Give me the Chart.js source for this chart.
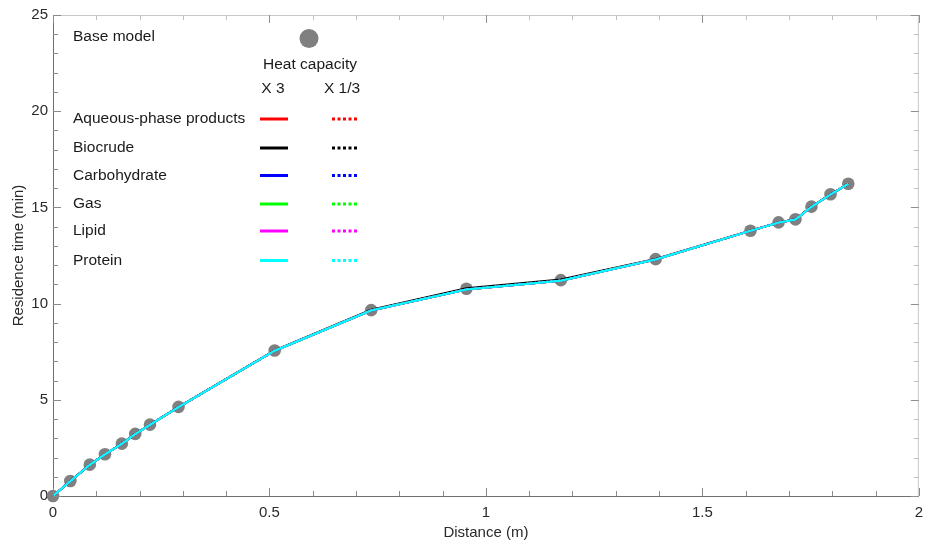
<!DOCTYPE html>
<html>
<head>
<meta charset="utf-8">
<script src="https://cdn.jsdelivr.net/npm/chart.js@4.4.3/dist/chart.umd.min.js"></script>
<style>
  html, body { margin: 0; padding: 0; background: #fff; }
  #wrap { width: 931px; height: 552px; position: relative; }
</style>
</head>
<body>
<div id="wrap"><canvas id="chart"></canvas></div>
<script>
// distance along reactor (m) and residence time (min)
const distance = [0, 0.040, 0.085, 0.120, 0.159, 0.190, 0.224, 0.290, 0.512, 0.735, 0.955, 1.173, 1.392, 1.611, 1.676, 1.715, 1.752, 1.796, 1.837];
const baseTime = [0, 0.78, 1.63, 2.17, 2.72, 3.23, 3.71, 4.63, 7.56, 9.66, 10.77, 11.22, 12.31, 13.79, 14.22, 14.38, 15.04, 15.68, 16.23];

// model curves, heat capacity x3 and x1/3 (all components nearly overlap)
const timeX3 = [0, 0.77, 1.62, 2.16, 2.71, 3.22, 3.70, 4.62, 7.55, 9.64, 10.73, 11.19, 12.29, 13.78, 14.21, 14.37, 15.03, 15.67, 16.22];
const timeThird = [0, 0.77, 1.62, 2.17, 2.72, 3.22, 3.71, 4.62, 7.55, 9.65, 10.74, 11.20, 12.30, 13.78, 14.21, 14.37, 15.03, 15.67, 16.22];
const biocrudeX3 = [0, 0.78, 1.63, 2.17, 2.72, 3.23, 3.71, 4.63, 7.57, 9.68, 10.80, 11.25, 12.32, 13.79, 14.22, 14.38, 15.04, 15.68, 16.23];

const components = ['Aqueous-phase products', 'Biocrude', 'Carbohydrate', 'Gas', 'Lipid', 'Protein'];
const componentColors = ['#ff0000', '#000000', '#0000ff', '#00ff00', '#ff00ff', '#00ffff'];
const curvesX3 = [timeX3, biocrudeX3, timeX3, timeX3, timeX3, timeX3];
const curvesThird = [timeThird, timeThird, timeThird, timeThird, timeThird, timeThird];

const xTickLabels = ['0', '0.5', '1', '1.5', '2'];
const yTickLabels = ['0', '5', '10', '15', '20', '25'];

const FONT = "'Liberation Sans', Arial, sans-serif";
const toPoints = (ys) => distance.map((d, i) => ({ x: d, y: ys[i] }));

const datasets = [];
components.forEach((name, i) => {
  datasets.push({
    label: name + ' X 1/3',
    data: toPoints(curvesThird[i]),
    showLine: true,
    borderColor: componentColors[i],
    borderWidth: 2,
    borderDash: [2, 2],
    pointRadius: 0,
    order: 40 - i * 2,
  });
  datasets.push({
    label: name + ' X 3',
    data: toPoints(curvesX3[i]),
    showLine: true,
    borderColor: componentColors[i],
    borderWidth: 2,
    pointRadius: 0,
    order: 39 - i * 2,
  });
});
datasets.push({
  label: 'Base model',
  data: toPoints(baseTime),
  showLine: false,
  clip: false,
  pointRadius: 6.3,
  pointBackgroundColor: '#808080',
  pointBorderWidth: 0,
  order: 100,
});

// inward ticks on all four sides, lighter top/right frame, and the in-plot legend
const framePlugin = {
  id: 'frame',
  afterDatasetsDraw(chart) {
    const { ctx, chartArea: a, scales: { x, y } } = chart;
    ctx.save();
    ctx.lineWidth = 1;
    ctx.strokeStyle = '#c8c8c8';
    ctx.beginPath();
    ctx.moveTo(a.left, a.top + 0.5); ctx.lineTo(a.right, a.top + 0.5);
    ctx.moveTo(a.right - 0.5, a.top); ctx.lineTo(a.right - 0.5, a.bottom);
    ctx.stroke();
    for (let v = 0; v <= 20; v++) {
      const px = Math.round(x.getPixelForValue(v / 10)) + 0.5;
      const len = v % 5 === 0 ? 8 : 5;
      ctx.strokeStyle = '#8a8a8a';
      ctx.beginPath(); ctx.moveTo(px, a.bottom); ctx.lineTo(px, a.bottom - len); ctx.stroke();
      ctx.strokeStyle = v % 5 === 0 ? '#909090' : '#c0c0c0';
      ctx.beginPath(); ctx.moveTo(px, a.top); ctx.lineTo(px, a.top + len); ctx.stroke();
    }
    for (let v = 0; v <= 25; v++) {
      const py = Math.round(y.getPixelForValue(v)) + 0.5;
      const len = v % 5 === 0 ? 8 : 5;
      ctx.strokeStyle = '#8a8a8a';
      ctx.beginPath(); ctx.moveTo(a.left, py); ctx.lineTo(a.left + len, py); ctx.stroke();
      ctx.strokeStyle = v % 5 === 0 ? '#909090' : '#c0c0c0';
      ctx.beginPath(); ctx.moveTo(a.right, py); ctx.lineTo(a.right - len, py); ctx.stroke();
    }

    // legend
    const lx = a.left + 20;
    ctx.fillStyle = '#1a1a1a';
    ctx.font = '15.5px ' + FONT;
    ctx.textBaseline = 'middle';
    ctx.textAlign = 'left';
    ctx.fillText('Base model', lx, 37);
    ctx.fillStyle = '#808080';
    ctx.beginPath(); ctx.arc(309, 38.5, 9.5, 0, Math.PI * 2); ctx.fill();
    ctx.fillStyle = '#1a1a1a';
    ctx.textAlign = 'center';
    ctx.fillText('Heat capacity', 310, 65);
    ctx.fillText('X 3', 273, 89);
    ctx.fillText('X 1/3', 342, 89);
    const rows = [119, 148, 175.5, 204, 231, 260.5];
    components.forEach((name, i) => {
      const ry = rows[i];
      ctx.fillStyle = '#1a1a1a';
      ctx.textAlign = 'left';
      ctx.fillText(name, lx, ry);
      ctx.strokeStyle = componentColors[i];
      ctx.lineWidth = 3;
      ctx.setLineDash([]);
      ctx.beginPath(); ctx.moveTo(260, ry); ctx.lineTo(288, ry); ctx.stroke();
      ctx.setLineDash([3, 2.5]);
      ctx.beginPath(); ctx.moveTo(332, ry); ctx.lineTo(358, ry); ctx.stroke();
    });
    ctx.restore();
  },
};

new Chart(document.getElementById('chart'), {
  type: 'scatter',
  data: { datasets },
  plugins: [framePlugin],
  options: {
    responsive: true,
    maintainAspectRatio: false,
    animation: false,
    layout: { padding: { top: 15, right: 12, left: 0, bottom: 0 } },
    plugins: { legend: { display: false }, tooltip: { enabled: false } },
    elements: { line: { tension: 0 } },
    scales: {
      x: {
        type: 'linear',
        min: 0,
        max: 2,
        grid: { display: false, drawTicks: false },
        border: { display: true, color: '#707070', width: 1 },
        ticks: {
          stepSize: 0.5,
          padding: 8,
          color: '#2a2a2a',
          font: { family: FONT, size: 15 },
          callback: (v, i) => xTickLabels[i],
        },
        title: {
          display: true,
          text: 'Distance (m)',
          color: '#2a2a2a',
          font: { family: FONT, size: 15 },
          padding: { top: 0, bottom: 10 },
        },
        afterFit: (s) => { s.height = 56; },
      },
      y: {
        type: 'linear',
        min: 0,
        max: 25,
        grid: { display: false, drawTicks: false },
        border: { display: true, color: '#707070', width: 1 },
        ticks: {
          stepSize: 5,
          padding: 5,
          color: '#2a2a2a',
          font: { family: FONT, size: 15 },
          callback: (v, i) => yTickLabels[i],
        },
        title: {
          display: true,
          text: 'Residence time (min)',
          color: '#2a2a2a',
          font: { family: FONT, size: 15 },
          padding: { top: 10, bottom: 0 },
        },
        afterFit: (s) => { s.width = 53; },
      },
    },
  },
});
</script>
</body>
</html>
